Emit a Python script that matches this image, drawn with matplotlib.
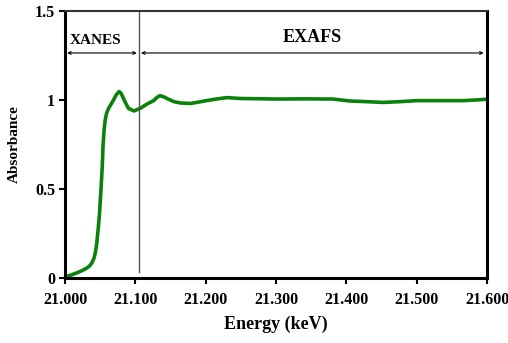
import matplotlib
matplotlib.use('Agg')
import matplotlib.pyplot as plt
from matplotlib.ticker import FuncFormatter

plt.rcParams['font.family'] = ['Liberation Serif', 'DejaVu Serif']
plt.rcParams['font.weight'] = 'bold'

# absorption spectrum
energy = [21.000, 21.008, 21.017, 21.025, 21.031, 21.035, 21.038, 21.041, 21.043,
          21.045, 21.047, 21.049, 21.051, 21.053, 21.054, 21.0555, 21.057, 21.059,
          21.062, 21.066, 21.069, 21.073, 21.077, 21.080, 21.084, 21.090, 21.098,
          21.107, 21.117, 21.126, 21.131, 21.135, 21.140, 21.147, 21.155, 21.164,
          21.178, 21.190, 21.201, 21.215, 21.230, 21.250, 21.268, 21.300, 21.340,
          21.381, 21.405, 21.430, 21.452, 21.475, 21.500, 21.530, 21.566, 21.585,
          21.600]
absorbance = [0.008, 0.015, 0.028, 0.042, 0.055, 0.067, 0.083, 0.108, 0.14,
              0.19, 0.27, 0.36, 0.49, 0.63, 0.74, 0.83, 0.885, 0.925,
              0.953, 0.98, 1.0, 1.03, 1.047, 1.035, 1.0, 0.953, 0.938,
              0.953, 0.978, 0.996, 1.015, 1.024, 1.018, 1.004, 0.99, 0.983,
              0.98, 0.988, 0.996, 1.005, 1.013, 1.008, 1.007, 1.005, 1.006,
              1.005, 0.994, 0.99, 0.986, 0.99, 0.996, 0.996, 0.996, 1.0,
              1.004]

x_ticks = [21.0, 21.1, 21.2, 21.3, 21.4, 21.5, 21.6]
y_ticks = [0, 0.5, 1, 1.5]
edge = 21.105
arrow_y = 1.264

fig = plt.figure(figsize=(5.08, 3.43), dpi=100)
ax = fig.add_axes([0.128, 0.19, 0.831, 0.778])

ax.plot(energy, absorbance, color='#0a820a', lw=2.6,
        solid_capstyle='round', solid_joinstyle='round')

# XANES / EXAFS boundary
ax.plot([edge, edge], [0.03, 1.5], color='#555555', lw=1.0)

arrow = dict(arrowstyle='<->', color='black', lw=0.8, mutation_scale=5, shrinkA=0, shrinkB=0)
ax.annotate('', xy=(21.003, arrow_y), xytext=(21.102, arrow_y), arrowprops=arrow)
ax.annotate('', xy=(21.108, arrow_y), xytext=(21.595, arrow_y), arrowprops=arrow)
ax.text(21.007, 1.335, 'XANES', fontsize=11, fontweight='bold', ha='left', va='center')
ax.text(21.352, 1.352, 'EXAFS', fontsize=13, fontweight='bold', ha='center', va='center')

ax.set_xlim(21.0, 21.6)
ax.set_ylim(0, 1.5)
ax.set_xticks(x_ticks)
ax.set_yticks(y_ticks)
ax.xaxis.set_major_formatter(FuncFormatter(lambda v, p: f'{v:.3f}'))
ax.yaxis.set_major_formatter(FuncFormatter(lambda v, p: f'{v:g}'))
ax.tick_params(axis='both', direction='out', length=4, width=1.5, labelsize=11.5)
ax.tick_params(axis='x', pad=6)
ax.tick_params(axis='y', pad=3)
ax.tick_params(top=False, right=False)

for s in ['left', 'bottom', 'right']:
    ax.spines[s].set_linewidth(2.2)
ax.spines['top'].set_linewidth(1.5)
ax.spines['top'].set_color('#333333')

ax.set_xlabel('Energy (keV)', fontsize=13, fontweight='bold', labelpad=6)
ax.set_ylabel('Absorbance', fontsize=11, fontweight='bold', labelpad=10)

fig.savefig('out.png', dpi=100)
